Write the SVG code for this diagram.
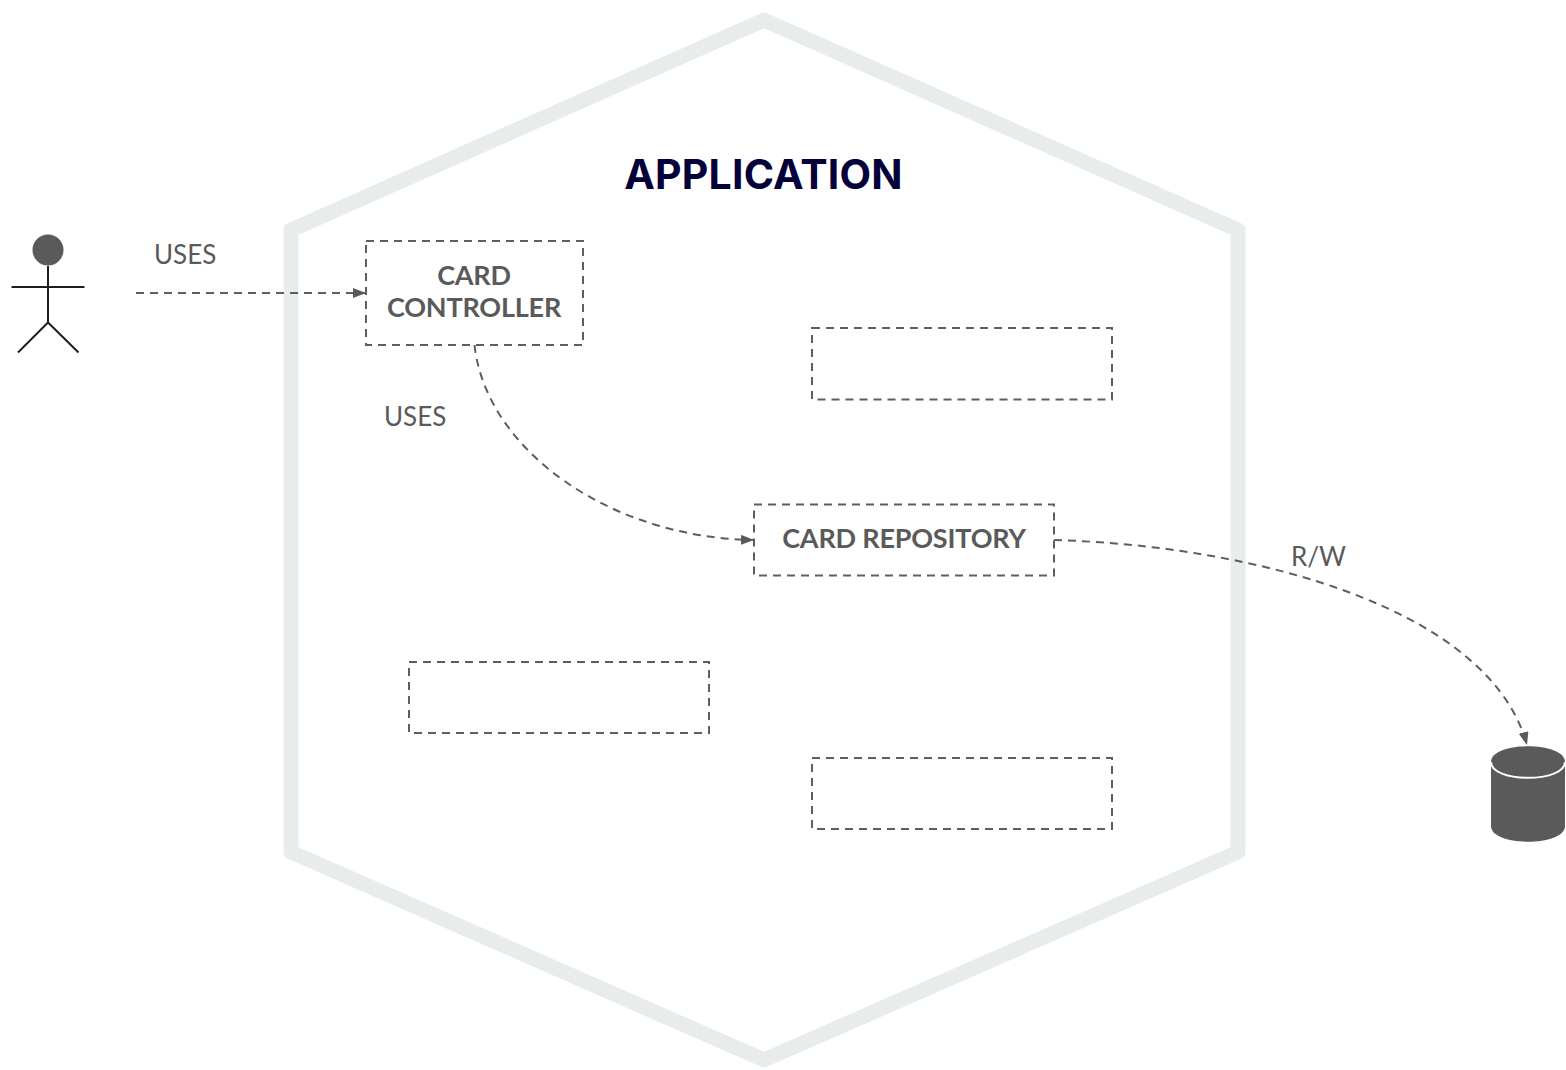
<svg xmlns="http://www.w3.org/2000/svg" width="1566" height="1070" viewBox="0 0 1566 1070">
<style>
.box{fill:none;stroke:#5e5e5e;stroke-width:2;stroke-dasharray:8 6}
.lnk{fill:none;stroke:#5e5e5e;stroke-width:2;stroke-dasharray:8 6}
.lbl{font-family:Lato,"Liberation Sans",sans-serif;font-size:26px;fill:#5a5a5a}
.nm{font-family:Lato,"Liberation Sans",sans-serif;font-size:27px;font-weight:700;fill:#5a5a5a;text-anchor:middle;letter-spacing:-.2px}
.st{fill:none;stroke:#1f1f1f;stroke-width:2}
</style>
<defs><marker id="a" markerUnits="userSpaceOnUse" markerWidth="14" markerHeight="12" refX="13" refY="5" orient="auto"><path d="M0 0L13 5L0 10Z" fill="#5a5a5a"/></marker></defs>
<rect width="1566" height="1070" fill="#fff"/>
<g id="application"><path d="M764 20L1238 230V852L764 1060L291 852V230Z" fill="none" stroke="#e9eced" stroke-width="15" stroke-linejoin="round"/>
<text x="763.500" y="189" text-anchor="middle" font-family="Inter,'Liberation Sans',sans-serif" font-size="41" font-weight="700" fill="#03003a" letter-spacing=".2">APPLICATION</text></g>
<g id="actor"><circle cx="48" cy="250" r="15.5" fill="#5a5a5a"/><path class="st" d="M48 266V322M11.500 287H84.500M18 352.500L48 322.500L78.500 352.500"/></g>
<g id="card-controller"><rect class="box" x="366" y="241" width="217" height="104"/><text class="nm" x="474" y="285">CARD</text><text class="nm" x="474" y="317">CONTROLLER</text></g>
<g id="box-top"><rect class="box" x="812" y="328" width="300" height="71.500"/></g>
<g id="card-repository"><rect class="box" x="754" y="504.500" width="300" height="71"/><text class="nm" x="904" y="548">CARD REPOSITORY</text></g>
<g id="box-left"><rect class="box" x="409" y="662" width="300" height="71"/></g>
<g id="box-bottom"><rect class="box" x="812" y="758" width="300" height="71"/></g>
<g id="database"><path d="M1491 762C1491 741 1565 741 1565 762V826C1565 847 1491 847 1491 826Z" fill="#5a5a5a"/><path d="M1491 762C1491 783 1565 783 1565 762" fill="none" stroke="#fff" stroke-width="2"/></g>
<g id="connectors">
<path class="lnk" marker-end="url(#a)" d="M136 293H366"/>
<path class="lnk" marker-end="url(#a)" d="M474.500 345C486 450 610 538 754 540"/>
<path class="lnk" marker-end="url(#a)" d="M1054 540C1260 546 1490 610 1527 745"/>
</g>
<g id="labels"><text class="lbl" x="154" y="264">USES</text><text class="lbl" x="384" y="426">USES</text><text class="lbl" x="1291" y="566">R/W</text></g>
</svg>
